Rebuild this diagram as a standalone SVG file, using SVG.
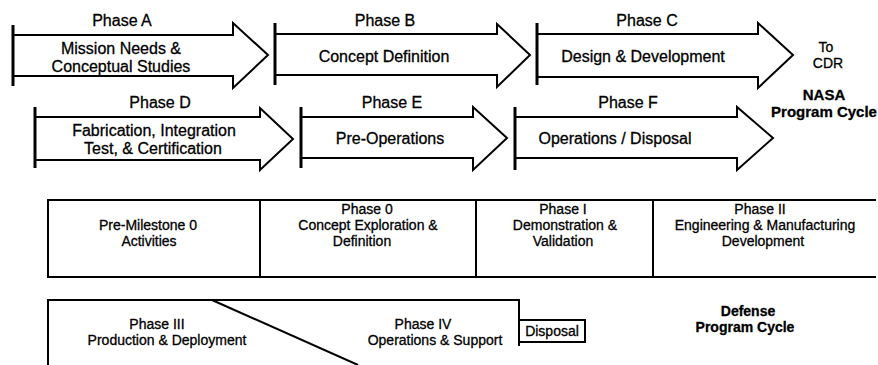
<svg xmlns="http://www.w3.org/2000/svg" width="878" height="365" viewBox="0 0 878 365">
<style>
  .bg { fill: #ffffff; }
  .arrow { fill: #ffffff; stroke: #000; stroke-width: 2; stroke-linejoin: miter; }
  .bar { stroke: #000; stroke-width: 3; }
  .box { fill: none; stroke: #000; stroke-width: 2; }
  .t { font-family: "Liberation Sans", Arial, sans-serif; font-size: 16px; fill: #000; text-anchor: middle; stroke: #000; stroke-width: 0.3; }
  .s { font-size: 14px; }
  .xs { font-size: 14px; }
  .b { font-weight: bold; font-size: 15px; }
</style>
<rect class="bg" x="0" y="0" width="878" height="365"/>

<g id="phaseA">
  <path class="arrow" d="M13,35 H233 V23 L268,55 L233,88 V76 H13"/>
  <line class="bar" x1="13" y1="25" x2="13" y2="86"/>
  <text class="t" x="122" y="26">Phase A</text>
  <text class="t" x="121" y="54">Mission Needs &amp;</text>
  <text class="t" x="121" y="72">Conceptual Studies</text>
</g>

<g id="phaseB">
  <path class="arrow" d="M275,34 H497 V24 L530,55 L497,87 V75 H275"/>
  <line class="bar" x1="275" y1="23" x2="275" y2="85"/>
  <text class="t" x="385" y="26">Phase B</text>
  <text class="t" x="384" y="62">Concept Definition</text>
</g>

<g id="phaseC">
  <path class="arrow" d="M537,34 H758 V23 L793,55 L758,88 V77 H537"/>
  <line class="bar" x1="537" y1="23" x2="537" y2="85"/>
  <text class="t" x="647" y="26">Phase C</text>
  <text class="t" x="643" y="62">Design &amp; Development</text>
</g>

<g id="toCDR">
  <text class="t xs" x="826" y="52">To</text>
  <text class="t xs" x="828" y="68">CDR</text>
</g>

<g id="phaseD">
  <path class="arrow" d="M35,117 H260 V108 L293,139 L260,170 V160 H35"/>
  <line class="bar" x1="35" y1="107" x2="35" y2="168"/>
  <text class="t" x="160" y="108">Phase D</text>
  <text class="t" x="154" y="136">Fabrication, Integration</text>
  <text class="t" x="153" y="154">Test, &amp; Certification</text>
</g>

<g id="phaseE">
  <path class="arrow" d="M301,117 H473 V107 L507,138 L473,170 V158 H301"/>
  <line class="bar" x1="301" y1="107" x2="301" y2="168"/>
  <text class="t" x="392" y="108">Phase E</text>
  <text class="t" x="390" y="144">Pre-Operations</text>
</g>

<g id="phaseF">
  <path class="arrow" d="M515,117 H737 V107 L773,138 L737,170 V158 H515"/>
  <line class="bar" x1="515" y1="107" x2="515" y2="170"/>
  <text class="t" x="628" y="108">Phase F</text>
  <text class="t" x="615" y="144">Operations / Disposal</text>
</g>

<g id="nasaLabel">
  <text class="t b" x="824" y="100">NASA</text>
  <text class="t b" x="824" y="117">Program Cycle</text>
</g>

<g id="defenseRow1">
  <path class="box" d="M876,200 H48 V277 H876"/>
  <line class="box" x1="260" y1="200" x2="260" y2="277"/>
  <line class="box" x1="476" y1="200" x2="476" y2="277"/>
  <line class="box" x1="653" y1="200" x2="653" y2="277"/>
</g>

<g id="preMilestone0">
  <text class="t s" x="148" y="230">Pre-Milestone 0</text>
  <text class="t s" x="149" y="246">Activities</text>
</g>

<g id="phase0">
  <text class="t s" x="367" y="214">Phase 0</text>
  <text class="t s" x="368" y="230">Concept Exploration &amp;</text>
  <text class="t s" x="362" y="246">Definition</text>
</g>

<g id="phaseI">
  <text class="t s" x="563" y="214">Phase I</text>
  <text class="t s" x="565" y="230">Demonstration &amp;</text>
  <text class="t s" x="563" y="246">Validation</text>
</g>

<g id="phaseII">
  <text class="t s" x="760" y="214">Phase II</text>
  <text class="t s" x="765" y="230">Engineering &amp; Manufacturing</text>
  <text class="t s" x="763" y="246">Development</text>
</g>

<g id="phaseIII_IV">
  <path class="box" d="M48,365 V300 H519 V346"/>
  <line class="box" x1="212" y1="300" x2="358" y2="365"/>
  <text class="t xs" x="157" y="329">Phase III</text>
  <text class="t xs" x="167" y="345">Production &amp; Deployment</text>
  <text class="t xs" x="423" y="329">Phase IV</text>
  <text class="t xs" x="435" y="345">Operations &amp; Support</text>
</g>

<g id="disposal">
  <rect class="box" x="519" y="320" width="66" height="22"/>
  <text class="t xs" x="552" y="336">Disposal</text>
</g>

<g id="defenseLabel">
  <text class="t b" x="748" y="316" style="font-size:14px">Defense</text>
  <text class="t b" x="745" y="332" style="font-size:14px">Program Cycle</text>
</g>

<g id="connectors"></g>
</svg>
